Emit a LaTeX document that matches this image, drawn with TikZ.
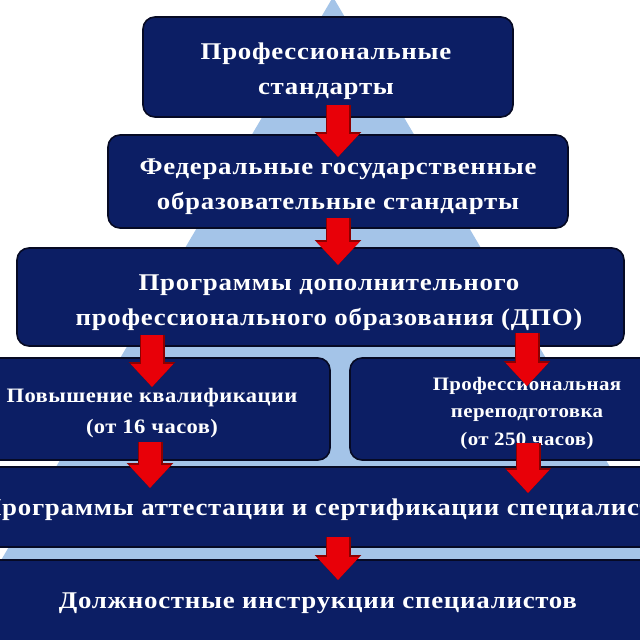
\documentclass[tikz,border=0pt]{standalone}
\usepackage{fontspec}
\setmainfont{Liberation Serif}
\usetikzlibrary{arrows.meta}
\definecolor{navy}{RGB}{12,30,100}
\definecolor{boxline}{RGB}{6,10,36}
\definecolor{pyr}{RGB}{164,196,232}
\definecolor{arrred}{RGB}{232,0,8}
\definecolor{arrdark}{RGB}{140,0,0}
\newcommand\fontMain{\bfseries\fontsize{24}{35}\selectfont\addfontfeature{FakeStretch=1.12,LetterSpace=3}}
\newcommand\fontMid{\bfseries\fontsize{20.5}{31}\selectfont\addfontfeature{FakeStretch=1.1,LetterSpace=2}}
\newcommand\fontSmall{\bfseries\fontsize{19}{27.5}\selectfont\addfontfeature{FakeStretch=1.1,LetterSpace=2}}
\begin{document}
\begin{tikzpicture}[x=1pt,y=-1pt,
  box/.style={rectangle, rounded corners=12pt, fill=navy, draw=boxline, line width=1.6pt, inner sep=0pt},
  label/.style={text=white, align=center, inner sep=0pt},
  barrow/.style={line width=22pt, draw=arrred, -{Triangle[width=41pt,length=23pt]}},
  barrowout/.style={line width=25pt, draw=arrdark, -{Triangle[width=45pt,length=25pt]}}]
\useasboundingbox (0,0) rectangle (640,640);
\clip (0,0) rectangle (640,640);
\fill[white] (0,0) rectangle (640,640);
% pyramid
\fill[pyr] (333,-3) -- (-46,640) -- (712,640) -- cycle;
% boxes
\node[box, minimum width=370pt, minimum height=100pt] (b1) at (328,67) {};
\node[box, minimum width=460pt, minimum height=93pt] (b2) at (338,181.5) {};
\node[box, minimum width=607pt, minimum height=98pt] (b3) at (320.5,297) {};
\node[box, minimum width=355pt, minimum height=102pt] (b4l) at (152.5,409) {};
\node[box, minimum width=355pt, minimum height=102pt] (b4r) at (527.5,409) {};
\node[box, minimum width=740pt, minimum height=80pt] (b5) at (330,507) {};
\node[box, minimum width=740pt, minimum height=90pt] (b6) at (320,605) {};
% texts
\node[label, font=\fontMain] (t1) at (326,71) {Профессиональные\\стандарты};
\node[label, font=\fontMain] (t2) at (338,187) {Федеральные государственные\\образовательные стандарты};
\node[label, font=\fontMain] (t3) at (329,303) {Программы дополнительного\\профессионального образования (ДПО)};
\node[label, font=\fontMid] (t4l) at (152,413) {Повышение квалификации\\(от 16 часов)};
\node[label, font=\fontSmall] (t4r) at (527,413) {Профессиональная\\переподготовка\\(от 250 часов)};
\node[label, font=\fontMain] (t5) at (331,510) {Программы аттестации и сертификации специалистов};
\node[label, font=\fontMain] (t6) at (318,603) {Должностные инструкции специалистов};
% arrow end points
\coordinate (a1s) at (338,105); \coordinate (a1e) at (338,157);
\coordinate (a2s) at (338,218); \coordinate (a2e) at (338,265);
\coordinate (a3ls) at (152,335); \coordinate (a3le) at (152,387);
\coordinate (a3rs) at (527,333); \coordinate (a3re) at (527,386);
\coordinate (a4ls) at (150,442); \coordinate (a4le) at (150,488);
\coordinate (a4rs) at (528,443); \coordinate (a4re) at (528,493);
\coordinate (a5s) at (338,537); \coordinate (a5e) at (338,580);
\foreach \s/\e in {a1s/a1e,a2s/a2e,a3ls/a3le,a3rs/a3re,a4ls/a4le,a4rs/a4re,a5s/a5e}{
  \draw[barrowout] (\s) -- (\e);
  \draw[barrow] (\s) -- (\e);
}
\end{tikzpicture}
\end{document}
